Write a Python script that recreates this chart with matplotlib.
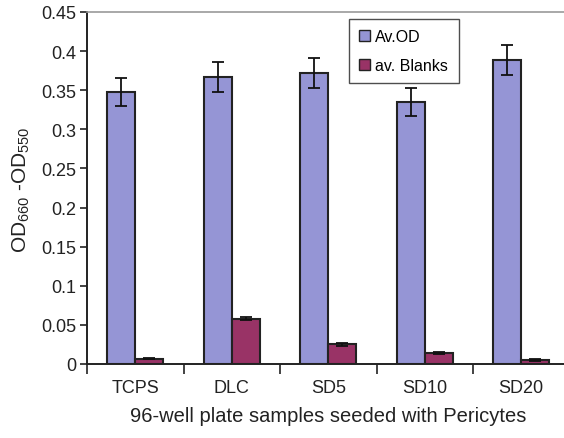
import numpy as np
import matplotlib.pyplot as plt
from matplotlib.ticker import FixedLocator

plt.rcParams['font.family'] = ['Liberation Sans', 'DejaVu Sans']
plt.rcParams['mathtext.fontset'] = 'custom'
plt.rcParams['mathtext.rm'] = 'Liberation Sans'
plt.rcParams['mathtext.it'] = 'Liberation Sans'
plt.rcParams['mathtext.default'] = 'regular'

# data
samples = ['TCPS', 'DLC', 'SD5', 'SD10', 'SD20']
av_od = [0.348, 0.367, 0.372, 0.335, 0.389]
av_od_err = [0.018, 0.019, 0.019, 0.018, 0.019]
av_blank = [0.007, 0.058, 0.025, 0.014, 0.005]
av_blank_err = [0.0005, 0.002, 0.0015, 0.0015, 0.0008]

x = np.arange(len(samples))
w = 0.29

fig = plt.figure(figsize=(5.64, 4.39), dpi=100)
ax = fig.add_axes([87/564, 1-365/439, 482.5/564, 352/439])

ax.bar(x - w/2, av_od, w, color='#9595d5', edgecolor='#222222', linewidth=1.5,
       label='Av.OD', zorder=2)
ax.bar(x + w/2, av_blank, w, color='#993366', edgecolor='#222222', linewidth=1.5,
       label='av. Blanks', zorder=2)
ax.errorbar(x - w/2, av_od, yerr=av_od_err, fmt='none', ecolor='#111111',
            elinewidth=1.3, capsize=4.5, capthick=1.3, zorder=3)
ax.errorbar(x + w/2, av_blank, yerr=av_blank_err, fmt='none', ecolor='#111111',
            elinewidth=1.3, capsize=4.5, capthick=1.3, zorder=3)

ax.set_xlim(-0.5, len(samples) - 0.5)
ax.set_ylim(0, 0.45)
ax.set_yticks(np.arange(0, 0.451, 0.05))
ax.set_yticklabels(['0', '0.05', '0.1', '0.15', '0.2', '0.25', '0.3', '0.35', '0.4', '0.45'])

ax.xaxis.set_major_locator(FixedLocator(np.arange(-0.5, len(samples), 1)))
ax.xaxis.set_minor_locator(FixedLocator(x))
ax.set_xticklabels([], minor=False)
ax.set_xticklabels(samples, minor=True)
ax.tick_params(axis='x', which='major', length=7, width=1.2, direction='out', color='#222222')
ax.tick_params(axis='x', which='minor', length=0, pad=11, labelsize=13, labelcolor='#222222')
ax.tick_params(axis='y', length=5, width=1.2, direction='out', labelsize=13, pad=3,
               color='#222222', labelcolor='#222222')

for s in ['left', 'bottom']:
    ax.spines[s].set_color('#222222')
    ax.spines[s].set_linewidth(1.4)
ax.spines['top'].set_color('#999999')
ax.spines['top'].set_linewidth(1.2)
ax.spines['right'].set_visible(False)

ax.set_xlabel('96-well plate samples seeded with Pericytes', fontsize=14.5, labelpad=7,
              color='#222222')
fig.text(21/564, 1-190/439, 'OD$_{660}$ -OD$_{550}$', rotation=90, fontsize=15,
         ha='center', va='center', color='#222222')

leg = fig.legend(loc='upper left', bbox_to_anchor=(349/564, 1-20/439),
                 bbox_transform=fig.transFigure, borderaxespad=0, fancybox=False,
                 edgecolor='#222222', fontsize=11.5, handlelength=0.65, handleheight=0.65,
                 handletextpad=0.35, labelspacing=0.85, borderpad=0.65)
leg.get_frame().set_linewidth(1.0)
for h in leg.legend_handles:
    h.set_linewidth(1.0)

fig.savefig('out.png', dpi=100)
